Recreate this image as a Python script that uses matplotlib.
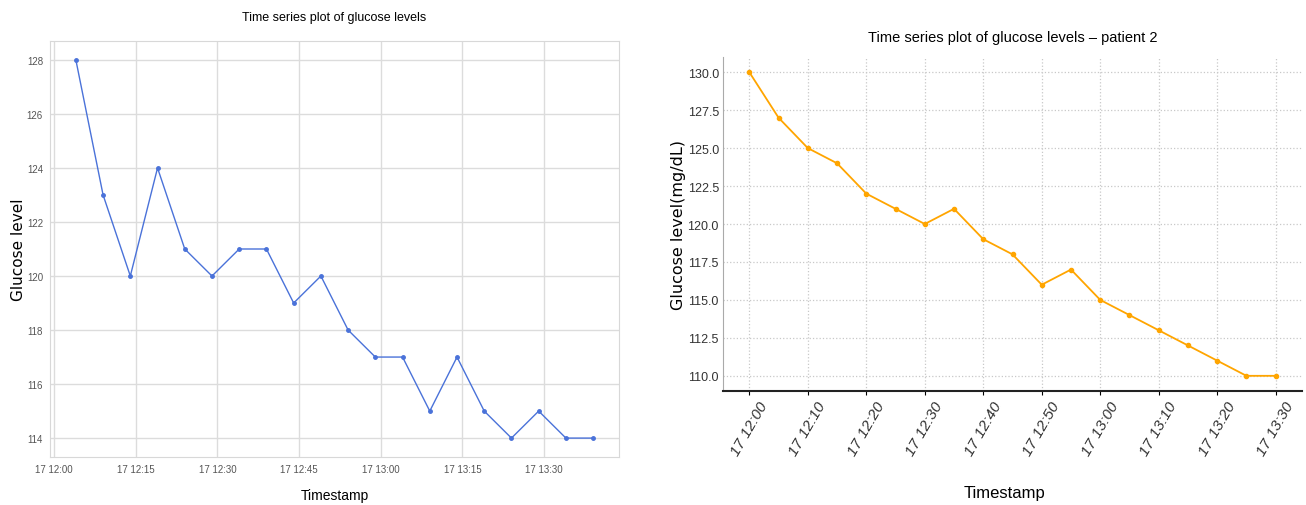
import pandas as pd
import matplotlib.pyplot as plt
import matplotlib.dates as mdates

# Patient 1 readings (every 5 min starting 12:04)
times_p1 = pd.date_range("2024-01-17 12:04", periods=20, freq="5min")
glucose_p1 = [128, 123, 120, 124, 121, 120, 121, 121, 119, 120,
              118, 117, 117, 115, 117, 115, 114, 115, 114, 114]

# Patient 2 readings (every 5 min starting 12:00)
times_p2 = pd.date_range("2024-01-17 12:00", periods=19, freq="5min")
glucose_p2 = [130, 127, 125, 124, 122, 121, 120, 121, 119, 118,
              116, 117, 115, 114, 113, 112, 111, 110, 110]

narrow = ['Liberation Sans', 'DejaVu Sans']
W, H = 1306, 506
fig = plt.figure(figsize=(W / 100, H / 100), dpi=100)

def box(x0, y0, x1, y1):
    # pixel box (top-left origin) -> figure fraction
    return [x0 / W, 1 - y1 / H, (x1 - x0) / W, (y1 - y0) / H]

# --- Left: patient 1 ---
ax1 = fig.add_axes(box(50, 42, 619, 458))
ax1.plot(times_p1, glucose_p1, color='#4a72d9', marker='o', markersize=2.5, linewidth=1.0)
ax1.grid(True, color='#dcdcdc', linewidth=1)
ax1.set_axisbelow(True)
for s in ax1.spines.values():
    s.set_color('#d8d8d8')
ax1.tick_params(length=0, labelsize=7, labelcolor='#555555', pad=5)
ax1.xaxis.set_major_locator(mdates.MinuteLocator(byminute=[0, 15, 30, 45]))
ax1.xaxis.set_major_formatter(mdates.DateFormatter('%d %H:%M'))
ax1.set_yticks([114, 116, 118, 120, 122, 124, 126, 128])
for lab in ax1.get_xticklabels() + ax1.get_yticklabels():
    lab.set_family(narrow)
ax1.set_title('Time series plot of glucose levels', fontsize=9, family=narrow,
              y=1.058, pad=0, va='center')
ax1.set_xlabel('Timestamp', fontsize=10, family=narrow, va='center')
ax1.xaxis.set_label_coords(0.5, -0.092)
ax1.set_ylabel('Glucose level', fontsize=11, va='center')
ax1.yaxis.set_label_coords(-0.056, 0.5)

# --- Right: patient 2 ---
ax2 = fig.add_axes(box(723, 58, 1302, 392))
ax2.plot(times_p2, glucose_p2, color='#ffa500', marker='o', markersize=3, linewidth=1.3)
ax2.grid(True, color='#c8c8c8', linestyle=':', linewidth=0.9)
ax2.set_axisbelow(True)
ax2.spines['top'].set_visible(False)
ax2.spines['right'].set_visible(False)
ax2.spines['left'].set_color('#aaaaaa')
ax2.spines['left'].set_linewidth(0.8)
ax2.spines['bottom'].set_color('#222222')
ax2.spines['bottom'].set_linewidth(1.5)
ax2.tick_params(axis='y', length=0, labelsize=9, labelcolor='#333333', pad=3)
ax2.tick_params(axis='x', length=3, labelsize=11, labelcolor='#333333', pad=3)
ax2.xaxis.set_major_locator(mdates.MinuteLocator(byminute=range(0, 60, 10)))
ax2.xaxis.set_major_formatter(mdates.DateFormatter('%d %H:%M'))
ax2.set_yticks([110.0, 112.5, 115.0, 117.5, 120.0, 122.5, 125.0, 127.5, 130.0])
ax2.yaxis.set_major_formatter(plt.FormatStrFormatter('%.1f'))
for lab in ax2.get_xticklabels():
    lab.set_family(narrow)
    lab.set_rotation(60)
    lab.set_ha('center')
    lab.set_style('italic')
for lab in ax2.get_yticklabels():
    lab.set_family(narrow)
ax2.set_title('Time series plot of glucose levels \u2013 patient 2', fontsize=10.5, family=narrow,
              y=1.06, pad=0, va='center')
ax2.set_xlabel('Timestamp', fontsize=12, family=narrow, va='center')
ax2.xaxis.set_label_coords(0.487, -0.305)
ax2.set_ylabel('Glucose level(mg/dL)', fontsize=11.5, va='center')
ax2.yaxis.set_label_coords(-0.076, 0.5)

fig.savefig('out.png', dpi=100)
